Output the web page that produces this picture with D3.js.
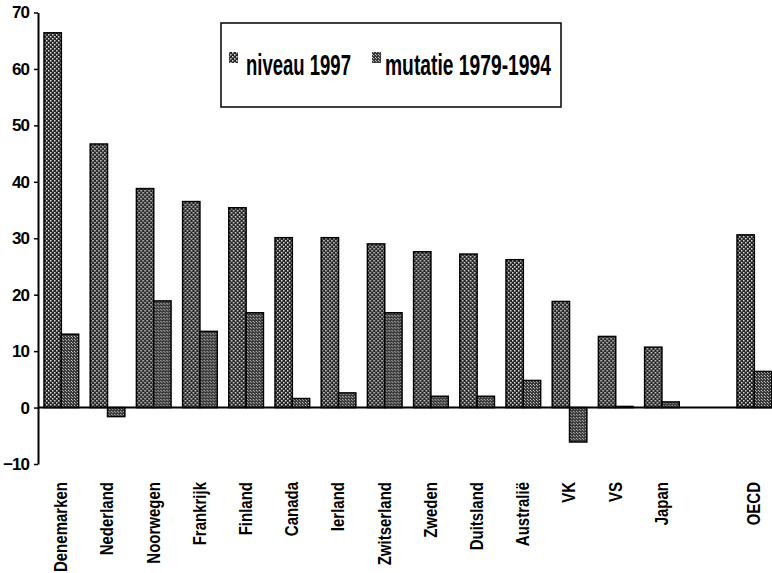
<!DOCTYPE html>
<html>
<head>
<meta charset="utf-8">
<script src="https://cdn.jsdelivr.net/npm/d3@7"></script>
<style>
  body { margin: 0; background: #fff; }
  text { font-family: Arial, "Liberation Sans", sans-serif; fill: #000; }
</style>
</head>
<body>
<div id="chart"></div>
<script>
// categories, "" is the empty slot before OECD
var countries = ["Denemarken", "Nederland", "Noorwegen", "Frankrijk", "Finland", "Canada", "Ierland",
  "Zwitserland", "Zweden", "Duitsland", "Australië", "VK", "VS", "Japan", "", "OECD"];
var niveau1997 = [66.4, 46.7, 38.8, 36.5, 35.4, 30.1, 30.1, 29.0, 27.6, 27.2, 26.2, 18.8, 12.6, 10.7, null, 30.6];
var mutatie7994 = [13.0, -1.6, 18.9, 13.5, 16.8, 1.6, 2.6, 16.8, 2.0, 2.0, 4.8, -6.1, 0.2, 1.0, null, 6.4];
var seriesNames = ["niveau 1997", "mutatie 1979-1994"];
var yTicks = [-10, 0, 10, 20, 30, 40, 50, 60, 70];

var W = 772, H = 573;
var svg = d3.select("#chart").append("svg")
    .attr("width", W)
    .attr("height", H);

// fill patterns (scanned dither look)
var defs = svg.append("defs");
var p1 = defs.append("pattern").attr("id", "patNiveau")
    .attr("width", 4).attr("height", 4).attr("patternUnits", "userSpaceOnUse");
p1.append("rect").attr("width", 4).attr("height", 4).attr("fill", "#262626");
p1.append("rect").attr("x", 0).attr("y", 0).attr("width", 1.5).attr("height", 1.5).attr("fill", "#dcdcdc");
p1.append("rect").attr("x", 2).attr("y", 2).attr("width", 1.5).attr("height", 1.5).attr("fill", "#dcdcdc");
var p2 = defs.append("pattern").attr("id", "patMutatie")
    .attr("width", 3).attr("height", 3).attr("patternUnits", "userSpaceOnUse");
p2.append("rect").attr("width", 3).attr("height", 3).attr("fill", "#3a3a3a");
p2.append("rect").attr("x", 0).attr("y", 0).attr("width", 1).attr("height", 1).attr("fill", "#c8c8c8");
p2.append("rect").attr("x", 1).attr("y", 1).attr("width", 1).attr("height", 1).attr("fill", "#a8a8a8");
var fills = ["url(#patNiveau)", "url(#patMutatie)"];

// scales
var x0 = d3.scaleBand()
    .domain(d3.range(countries.length))
    .range([38, 38 + 16 * 46.2]);
var x1 = d3.scaleBand()
    .domain([0, 1])
    .range([x0.bandwidth() * 0.13, x0.bandwidth() * 0.88]);
var y = d3.scaleLinear()
    .domain([-10, 70])
    .range([464, 12.5]);

var rows = countries.map(function(c, i) {
  return {i: i, name: c, vals: [niveau1997[i], mutatie7994[i]]};
});

// bars
var groups = svg.append("g").selectAll("g")
  .data(rows)
  .enter().append("g")
    .attr("transform", function(d) { return "translate(" + x0(d.i) + ",0)"; });

groups.selectAll("rect")
  .data(function(d) { return d.vals.map(function(v, k) { return {k: k, v: v}; }).filter(function(e) { return e.v !== null; }); })
  .enter().append("rect")
    .attr("x", function(d) { return x1(d.k); })
    .attr("width", x1.bandwidth())
    .attr("y", function(d) { return y(Math.max(0, d.v)); })
    .attr("height", function(d) { return Math.abs(y(d.v) - y(0)); })
    .attr("fill", function(d) { return fills[d.k]; })
    .attr("stroke", "#000")
    .attr("stroke-width", 1.5);

// zero line
svg.append("line")
  .attr("x1", 38).attr("x2", W)
  .attr("y1", y(0)).attr("y2", y(0))
  .attr("stroke", "#000").attr("stroke-width", 2);

// y axis
var yAxis = svg.append("g")
  .attr("transform", "translate(38,0)")
  .call(d3.axisLeft(y).tickValues(yTicks).tickSize(4).tickSizeOuter(0).tickPadding(5));
yAxis.select(".domain").attr("stroke-width", 2);
yAxis.selectAll(".tick line").attr("stroke-width", 1.5);
yAxis.selectAll(".tick text")
  .style("font-size", "17px")
  .style("font-weight", "bold")
  .style("letter-spacing", "-1px");

// category labels, rotated
svg.append("g").selectAll("text")
  .data(rows.filter(function(d) { return d.name !== ""; }))
  .enter().append("text")
    .attr("transform", function(d) {
      return "translate(" + (x0(d.i) + x0.bandwidth() / 2 + 6) + ",482) rotate(-90) scale(0.79,1)";
    })
    .attr("text-anchor", "end")
    .style("font-size", "19px")
    .style("font-weight", "bold")
    .text(function(d) { return d.name; });

// legend
var legend = svg.append("g");
legend.append("rect")
  .attr("x", 221).attr("y", 23).attr("width", 340).attr("height", 84)
  .attr("fill", "#fff").attr("stroke", "#000").attr("stroke-width", 1.5);
var legX = [229, 372];
var legTextX = [246, 385];
var legLen = [105, 166];
seriesNames.forEach(function(s, k) {
  legend.append("rect")
    .attr("x", legX[k]).attr("y", 52).attr("width", 9).attr("height", 11)
    .attr("fill", fills[k]);
  var t = legend.append("text")
    .style("font-size", "29px")
    .style("font-weight", "bold")
    .text(s);
  // squeeze the text to the narrow width seen in the scan
  var sx = legLen[k] / t.node().getComputedTextLength();
  t.attr("transform", "translate(" + legTextX[k] + ",75) scale(" + sx + ",1)");
});
</script>
</body>
</html>
